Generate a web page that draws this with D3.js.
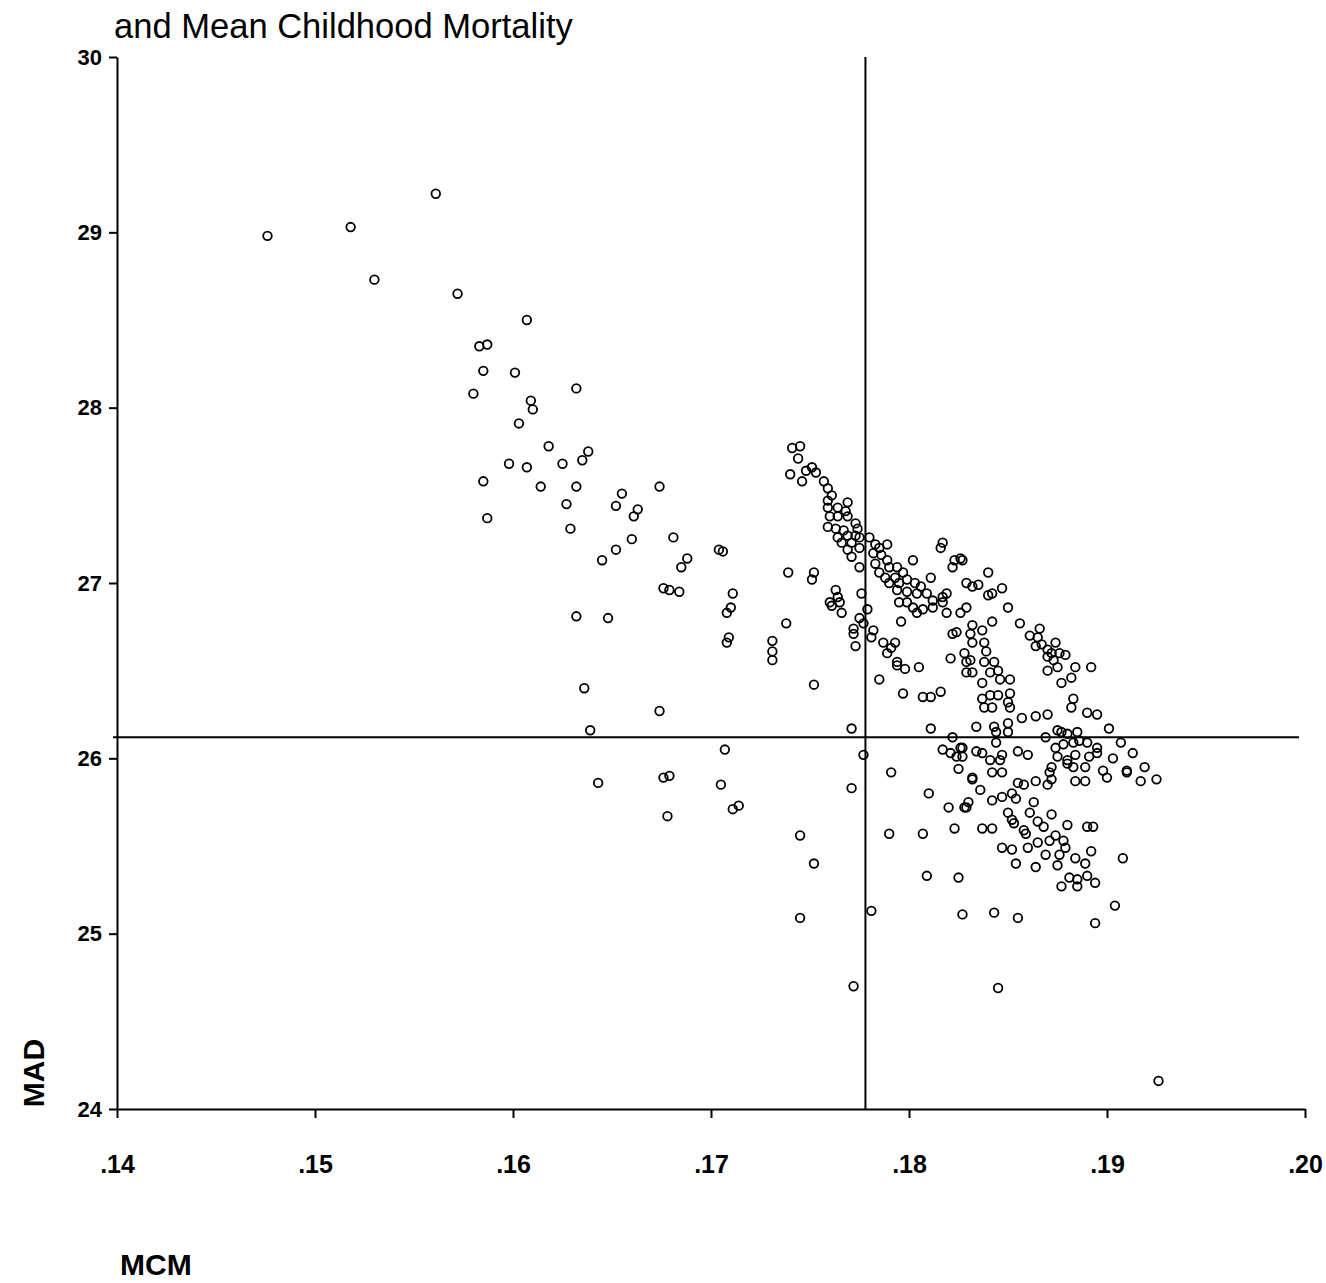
<!DOCTYPE html>
<html>
<head>
<meta charset="utf-8">
<script src="https://cdn.jsdelivr.net/npm/d3@7"></script>
<style>
  html, body { margin: 0; padding: 0; background: #fff; }
  svg { display: block; }
  text { font-family: Arial, "Liberation Sans", sans-serif; fill: #000; }
</style>
</head>
<body>
<svg id="chart" width="1326" height="1283"></svg>
<script>
// Mean childhood mortality (MCM) against mean age at death (MAD), one point per unit.
const mcm = [
  .1476,.1518,.1530,.1561,.1572,.1607,.1583,.1587,.1585,.1601,
  .1580,.1632,.1609,.1610,.1603,.1618,.1598,.1607,.1625,.1635,
  .1638,.1585,.1614,.1632,.1627,.1587,.1629,.1655,.1652,.1663,
  .1661,.1674,.1660,.1652,.1645,.1681,.1688,.1685,.1704,.1706,
  .1676,.1679,.1684,.1711,.1710,.1708,.1632,.1648,.1709,.1708,
  .1731,.1731,.1731,.1636,.1674,.1639,.1707,.1643,.1676,.1679,
  .1705,.1678,.1711,.1714,
  .1739,.1738,.1752,.1751,.1752,.1745,.1752,.1745,.1772,.1771,
  .1771,.1777,.1781,.1791,.1790,.1810,.1820,.1829,.1807,.1823,
  .1809,.1825,.1827,
  .1761,.1765,.1766,.1779,.1775,.1777,.1772,.1772,.1782,.1781,
  .1773,.1787,.1793,.1791,.1789,.1796,.1794,.1794,.1798,.1805,
  .1822,.1824,.1821,.1828,.1829,.1829,.1785,.1797,.1807,.1811,
  .1816,.1811,.1822,.1826,.1817,.1821,.1824,.1825,
  .1795,.1799,.1802,.1804,.1807,.1812,.1817,.1819,.1826,
  .1829,.1850,.1842,.1856,.1866,.1861,.1865,.1867,.1870,.1872,
  .1874,.1876,.1879,.1864,.1870,.1873,.1870,.1875,.1884,.1892,
  .1882,.1877,.1832,.1837,.1831,.1832,.1838,.1839,.1831,.1832,
  .1838,.1843,.1845,.1841,.1837,.1846,.1851,.1837,.1841,.1845,
  .1851,.1838,.1842,.1850,.1851,.1883,.1882,.1890,.1895,.1857,
  .1864,.1870,.1834,.1843,.1850,.1850,.1844,.1901,.1875,.1877,
  .1880,.1885,.1869,.1827,.1834,.1837,.1844,.1847,.1855,.1860,
  .1827,.1874,.1878,.1883,.1886,.1890,.1895,.1907,.1841,.1846,
  .1875,.1880,.1884,.1891,.1895,.1913,.1903,.1832,.1842,.1847,
  .1872,.1871,.1880,.1883,.1889,.1898,.1910,.1910,.1919,.1889,
  .1884,.1900,.1917,.1925,.1855,.1858,.1864,.1870,
  .1832,.1836,.1828,.1830,.1842,.1847,.1852,.1854,
  .1872,
  .1861,.1863,.1850,.1852,.1853,.1872,.1865,.1868,
  .1837,.1842,.1858,.1859,.1880,.1890,.1893,.1847,.1852,.1860,
  .1865,.1869,.1871,.1874,.1878,.1879,.1876,.1875,.1884,.1889,
  .1892,.1908,.1854,.1864,.1881,.1885,.1885,.1890,.1894,.1877,
  .1904,.1843,.1855,.1894,.1845,.1926,
  .1827,.1840,.1829,.1832,.1835,.1840,.1842,.1847,
  .1741,.1745,.1744,.1740,.1748,.1751,.1746,.1753,.1757,.1759,
  .1761,.1759,.1769,.1759,.1764,.1768,.1760,.1764,.1769,.1773,
  .1759,.1763,.1767,.1774,.1764,.1769,.1773,.1766,.1771,.1775,
  .1769,.1775,.1771,.1780,.1783,.1785,.1789,.1782,.1786,.1789,
  .1783,.1785,.1790,.1794,.1788,.1793,.1797,.1802,.1811,.1790,
  .1795,.1799,.1803,.1806,.1794,.1799,.1804,.1809,.1812,.1817,.1819,
  .1816,.1817,.1823,.1826,.1822,
  .1763,.1764,.1760,.1775,.1776
];

const mad = [
  28.98,29.03,28.73,29.22,28.65,28.50,28.35,28.36,28.21,28.20,
  28.08,28.11,28.04,27.99,27.91,27.78,27.68,27.66,27.68,27.70,
  27.75,27.58,27.55,27.55,27.45,27.37,27.31,27.51,27.44,27.42,
  27.38,27.55,27.25,27.19,27.13,27.26,27.14,27.09,27.19,27.18,
  26.97,26.96,26.95,26.94,26.86,26.83,26.81,26.80,26.69,26.66,
  26.67,26.61,26.56,26.40,26.27,26.16,26.05,25.86,25.89,25.90,
  25.85,25.67,25.71,25.73,
  27.06,26.77,27.06,27.02,26.42,25.56,25.40,25.09,24.70,25.83,
  26.17,26.02,25.13,25.92,25.57,25.80,25.72,25.72,25.57,25.60,
  25.33,25.32,25.11,
  26.87,26.89,26.83,26.85,26.80,26.77,26.74,26.71,26.73,26.69,
  26.64,26.66,26.66,26.63,26.60,26.78,26.55,26.53,26.51,26.52,
  26.71,26.72,26.57,26.60,26.55,26.49,26.45,26.37,26.35,26.35,
  26.38,26.17,26.12,26.06,26.05,26.03,26.01,25.94,
  26.89,26.89,26.86,26.83,26.85,26.86,26.89,26.83,26.83,
  26.86,26.86,26.78,26.77,26.74,26.70,26.69,26.65,26.62,26.60,
  26.66,26.60,26.59,26.64,26.58,26.56,26.50,26.52,26.52,26.52,
  26.46,26.43,26.76,26.73,26.71,26.66,26.66,26.61,26.56,26.49,
  26.55,26.55,26.50,26.49,26.43,26.45,26.45,26.34,26.36,26.36,
  26.37,26.29,26.29,26.32,26.29,26.34,26.29,26.26,26.25,26.23,
  26.24,26.25,26.18,26.18,26.20,26.15,26.15,26.17,26.16,26.15,
  26.14,26.15,26.12,26.06,26.04,26.03,26.09,26.02,26.04,26.02,
  26.01,26.06,26.08,26.09,26.10,26.09,26.06,26.09,25.99,25.99,
  26.01,25.99,26.02,26.01,26.03,26.03,26.00,25.89,25.92,25.92,
  25.95,25.92,25.97,25.95,25.95,25.93,25.93,25.92,25.95,25.87,
  25.87,25.89,25.87,25.88,25.86,25.85,25.87,25.85,
  25.88,25.82,25.72,25.75,25.76,25.78,25.80,25.77,
  25.88,
  25.69,25.75,25.69,25.65,25.63,25.68,25.64,25.61,
  25.60,25.60,25.59,25.57,25.62,25.61,25.61,25.49,25.48,25.49,
  25.52,25.45,25.53,25.56,25.53,25.49,25.45,25.39,25.43,25.40,
  25.47,25.43,25.40,25.38,25.32,25.31,25.27,25.33,25.29,25.27,
  25.16,25.12,25.09,25.06,24.69,24.16,
  27.13,27.06,27.00,26.98,26.99,26.93,26.94,26.97,
  27.77,27.78,27.71,27.62,27.64,27.66,27.58,27.63,27.58,27.54,
  27.50,27.47,27.46,27.43,27.43,27.41,27.38,27.38,27.38,27.34,
  27.32,27.31,27.30,27.31,27.26,27.27,27.27,27.23,27.23,27.26,
  27.19,27.20,27.15,27.26,27.22,27.20,27.22,27.17,27.16,27.13,
  27.11,27.06,27.09,27.09,27.03,27.03,27.06,27.13,27.03,27.00,
  27.00,27.02,27.00,26.98,26.96,26.95,26.94,26.94,26.90,26.92,26.94,
  27.20,27.23,27.13,27.14,27.09,
  26.96,26.92,26.89,27.09,26.94
];

// Axis ticks and the two mean reference lines
const xTicks = [.14, .15, .16, .17, .18, .19, .20];
const yTicks = [24, 25, 26, 27, 28, 29, 30];
const meanMCM = 0.1778;
const meanMAD = 26.12;

const titleText = "and Mean Childhood Mortality";
const xLabel = "MCM";
const yLabel = "MAD";

const svg = d3.select("#chart");
svg.append("rect").attr("width", 1326).attr("height", 1283).attr("fill", "#fff");

const x = d3.scaleLinear().domain([0.14, 0.20]).range([117, 1305]);
const y = d3.scaleLinear().domain([24, 30]).range([1109, 57]);

// Title (second line of a two-line heading)
const title = svg.append("text")
  .attr("x", 114).attr("y", 38)
  .attr("font-size", 31)
  .text(titleText);
const tw = title.node().getComputedTextLength();
title.attr("font-size", 31 * 459 / tw);

// Axes
const fmt = d => d3.format(".2f")(d).replace(/^0/, "");
const gx = svg.append("g")
  .attr("transform", `translate(0,${y(24)})`)
  .call(d3.axisBottom(x).tickValues(xTicks).tickFormat(fmt)
        .tickSize(9).tickSizeOuter(0).tickPadding(37));
const gy = svg.append("g")
  .attr("transform", `translate(${x(0.14)},0)`)
  .call(d3.axisLeft(y).tickValues(yTicks).tickFormat(d3.format("d"))
        .tickSize(8).tickSizeOuter(0).tickPadding(7));

[gx, gy].forEach(g => {
  g.select(".domain").attr("stroke", "#000").attr("stroke-width", 2);
  g.selectAll(".tick line").attr("stroke", "#000").attr("stroke-width", 2);
  g.selectAll(".tick text")
    .attr("font-family", "Arial, 'Liberation Sans', sans-serif")
    .attr("font-weight", "bold")
    .attr("fill", "#000");
});
gx.selectAll(".tick text").attr("font-size", 25);
gy.selectAll(".tick text").attr("font-size", 22);

// Mean reference lines
svg.append("line")
  .attr("x1", x(0.14) - 4).attr("x2", x(0.1997))
  .attr("y1", y(meanMAD)).attr("y2", y(meanMAD))
  .attr("stroke", "#000").attr("stroke-width", 2);
svg.append("line")
  .attr("x1", x(meanMCM)).attr("x2", x(meanMCM))
  .attr("y1", y(30)).attr("y2", y(24))
  .attr("stroke", "#000").attr("stroke-width", 2);

// Points
svg.append("g")
  .selectAll("circle")
  .data(d3.zip(mcm, mad))
  .join("circle")
  .attr("cx", d => x(d[0]))
  .attr("cy", d => y(d[1]))
  .attr("r", 4.3)
  .attr("fill", "none")
  .attr("stroke", "#000")
  .attr("stroke-width", 1.8);

// Axis titles
svg.append("text")
  .attr("transform", "translate(44,1073) rotate(-90)")
  .attr("text-anchor", "middle")
  .attr("font-weight", "bold")
  .attr("font-size", 30)
  .text(yLabel);
svg.append("text")
  .attr("x", 120).attr("y", 1275)
  .attr("font-weight", "bold")
  .attr("font-size", 30)
  .text(xLabel);
</script>
</body>
</html>
